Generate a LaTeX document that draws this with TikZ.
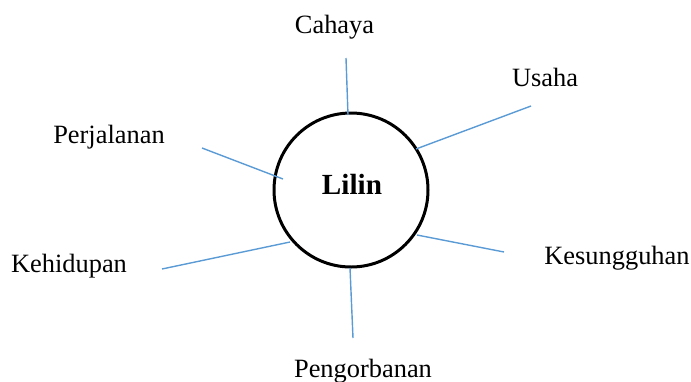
\documentclass[tikz,border=0pt]{standalone}
\usepackage{fontspec}
\setmainfont{Liberation Serif}

\begin{document}
\begin{tikzpicture}[x=0.5pt,y=-0.5pt,
	word/.style={anchor=base, inner sep=0pt, font=\fontsize{13.2}{15}\selectfont},
	spoke/.style={color={rgb,255:red,91;green,155;blue,213}, line width=0.7pt}]

	\useasboundingbox (0,0) rectangle (691,381);

	% centre circle
	\node[draw, circle, line width=1.5pt, minimum size=77pt, inner sep=0pt]
		(lilin) at (351,190) {};
	\node[anchor=base, inner sep=0pt, font=\fontsize{14.6}{17}\selectfont\bfseries]
		(lilintext) at (352,194) {Lilin};

	% words around
	\node[word] (cahaya) at (334.5,33) {Cahaya};
	\node[word] (usaha) at (545,86) {Usaha};
	\node[word] (perjalanan) at (109,143) {Perjalanan};
	\node[word] (kehidupan) at (69,272) {Kehidupan};
	\node[word] (pengorbanan) at (363,377) {Pengorbanan};
	\node[word] (kesungguhan) at (617,264) {Kesungguhan};

	% spoke ends
	\coordinate (c1) at (346,58);   \coordinate (c2) at (348,115);
	\coordinate (u1) at (531,106);  \coordinate (u2) at (416,149);
	\coordinate (p1) at (202,148);  \coordinate (p2) at (283,179);
	\coordinate (h1) at (162,269);  \coordinate (h2) at (290,242);
	\coordinate (g1) at (353,338);  \coordinate (g2) at (350,268);
	\coordinate (k1) at (504,252);  \coordinate (k2) at (417,235);

	% spokes
	\draw[spoke] (c1) -- (c2);
	\draw[spoke] (u1) -- (u2);
	\draw[spoke] (p1) -- (p2);
	\draw[spoke] (h1) -- (h2);
	\draw[spoke] (g1) -- (g2);
	\draw[spoke] (k1) -- (k2);

\end{tikzpicture}
\end{document}
